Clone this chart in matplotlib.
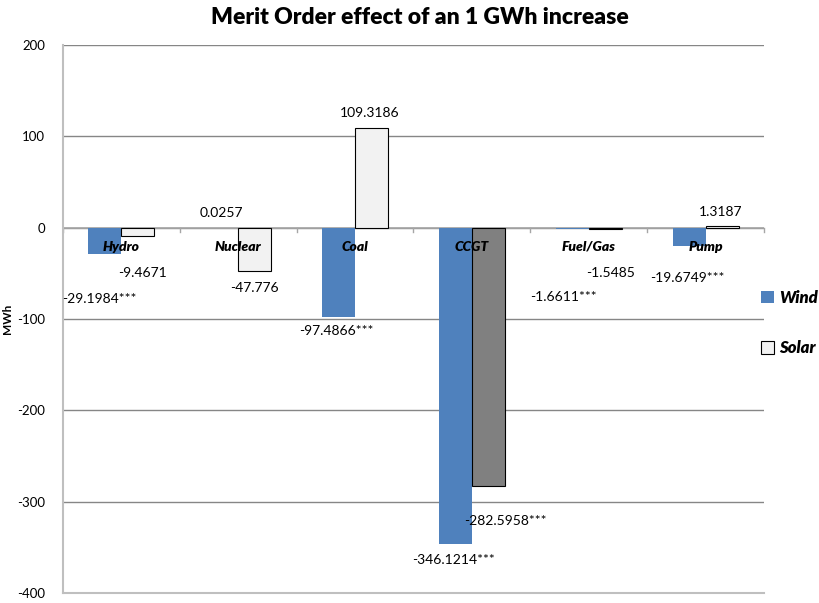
import matplotlib
matplotlib.use("Agg")
import matplotlib.pyplot as plt
from matplotlib.patches import Patch
import numpy as np

plt.rcParams['font.family'] = ['Lato', 'DejaVu Sans']

categories = ["Hydro", "Nuclear", "Coal", "CCGT", "Fuel/Gas", "Pump"]
wind = [-29.1984, 0.0257, -97.4866, -346.1214, -1.6611, -19.6749]
solar = [-9.4671, -47.776, 109.3186, -282.5958, -1.5485, 1.3187]
wind_labels = ["-29.1984***", "0.0257", "-97.4866***", "-346.1214***", "-1.6611***", "-19.6749***"]
solar_labels = ["-9.4671", "-47.776", "109.3186", "-282.5958***", "-1.5485", "1.3187"]
yticks = [-400, -300, -200, -100, 0, 100, 200]

# label placement (data coords)
wind_lab_pos = [(-0.19, -77.8), (0.853, 16.4), (1.837, -112.8), (2.839, -363.6), (3.781, -75.6), (4.843, -54.8)]
solar_lab_pos = [(0.18, -49.3), (1.135, -65.7), (2.128, 126.0), (3.284, -320.9), (4.183, -49.3), (5.125, 17.5)]

fig = plt.figure(figsize=(8.2, 6.03), dpi=100)
ax = fig.add_axes([63/820, 10/603, (764-63)/820, (593-45)/603])

x = np.arange(len(categories))
w = 0.283
wind_color = "#4F81BD"
solar_colors = ["#F2F2F2"] * len(categories)
solar_colors[3] = "#808080"

ax.bar(x - w/2, wind, w, color=wind_color, zorder=3)
ax.bar(x + w/2, solar, w, color=solar_colors, edgecolor="black", linewidth=0.8, zorder=3)

ax.set_xlim(-0.5, len(categories) - 0.5)
ax.set_ylim(-400, 200)
ax.set_yticks(yticks)
ax.set_yticklabels([str(t) for t in yticks], fontsize=9.5)
ax.yaxis.grid(True, color="#868686", linewidth=1, zorder=0)
ax.set_xticks([])
ax.tick_params(axis='y', length=0, pad=13)

for s in ["top", "right"]:
    ax.spines[s].set_visible(False)
ax.spines["left"].set_color("#BFBFBF")
ax.spines["left"].set_linewidth(1.5)
ax.spines["bottom"].set_color("#BFBFBF")
ax.spines["bottom"].set_linewidth(1.5)

# zero axis line with category boundary ticks
ax.axhline(0, color="#A6A6A6", linewidth=1.2, zorder=2)
for b in np.arange(-0.5, len(categories)):
    ax.plot([b, b], [0, -4.5], color="#A6A6A6", linewidth=1, zorder=2, clip_on=False)

for i, c in enumerate(categories):
    ax.text(i, -20.8, c, ha="center", va="center", fontsize=10, fontweight="heavy", fontstyle="italic", zorder=5)

for (px, py), t in zip(wind_lab_pos, wind_labels):
    ax.text(px, py, t, ha="center", va="center", fontsize=10, zorder=5)
for (px, py), t in zip(solar_lab_pos, solar_labels):
    ax.text(px, py, t, ha="center", va="center", fontsize=10, zorder=5)

ax.set_ylabel("MWh", fontsize=8.5, fontweight="bold")
ax.yaxis.set_label_coords(-(63 - 13) / 701, 0.5)

fig.text(420/820, 1 - 18/603, "Merit Order effect of an 1 GWh increase", ha="center", va="center",
         fontsize=16.5, fontweight="heavy")

handles = [Patch(facecolor=wind_color, edgecolor="none"), Patch(facecolor="#F2F2F2", edgecolor="black", linewidth=0.8)]
leg = fig.legend(handles, ["Wind", "Solar"], loc="center left", bbox_to_anchor=(761/820, 1 - 323/603),
                 frameon=False, prop={"weight": "heavy", "style": "italic", "size": 12},
                 handlelength=0.8, handleheight=0.8, handletextpad=0.3, labelspacing=2.05,
                 borderpad=0, borderaxespad=0)

fig.savefig("out.png", dpi=100)
